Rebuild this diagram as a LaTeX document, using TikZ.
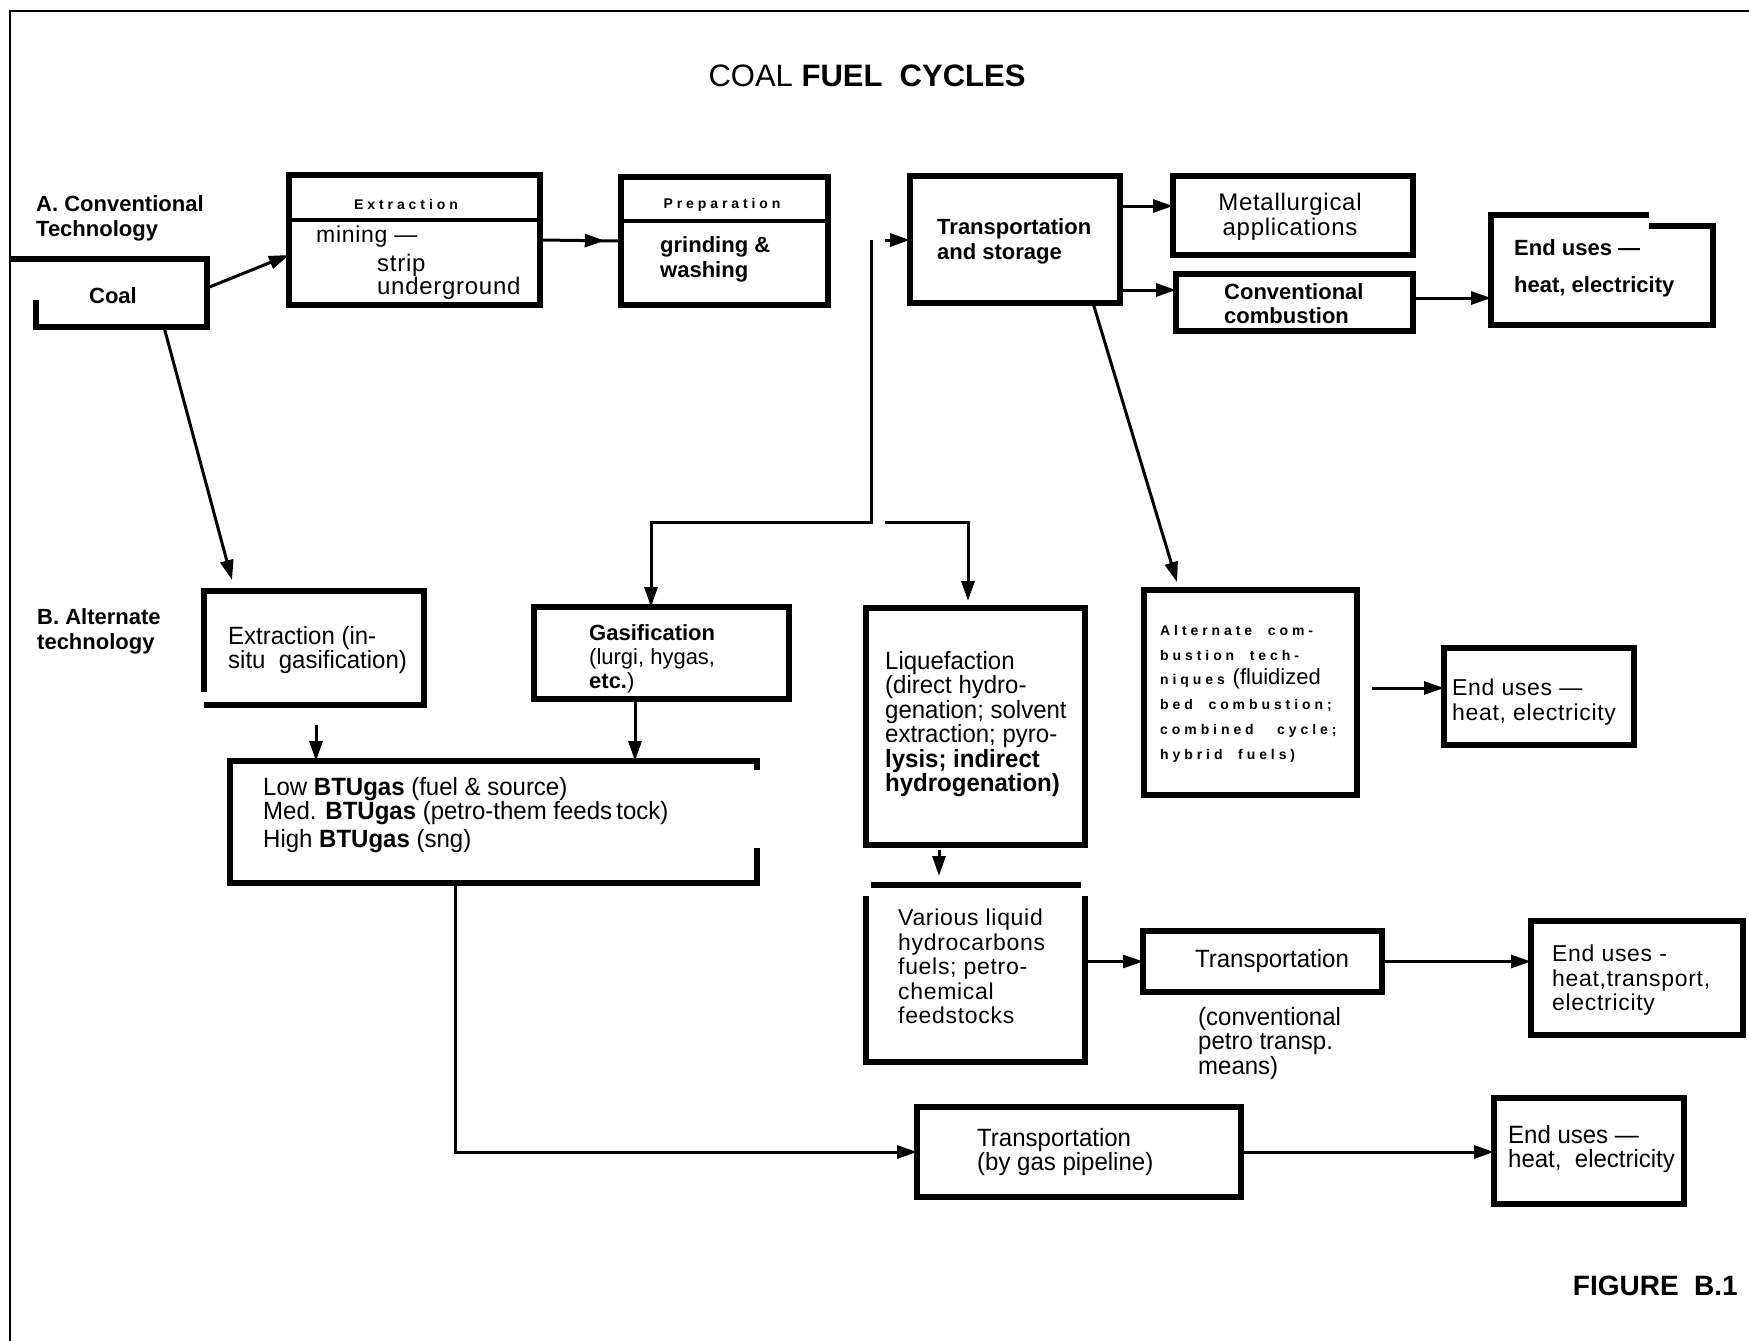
\documentclass[tikz,border=0pt]{standalone}
\usepackage{fontspec}
\setmainfont{Liberation Sans}
\newfontfamily\narf[FakeStretch=0.96]{Liberation Sans}
\newfontfamily\spcf[LetterSpace=28]{Liberation Sans}
\newfontfamily\typf[LetterSpace=3]{Liberation Sans}
\usetikzlibrary{arrows.meta,decorations.markings,calc}
\begin{document}
\begin{tikzpicture}[x=1pt,y=-1pt,
  box/.style={draw, line width=6pt, inner sep=0pt, outer sep=0pt},
  ghost/.style={inner sep=0pt, outer sep=0pt},
  edge/.style={line width=6pt},
  divider/.style={line width=3.5pt},
  conn/.style={line width=3pt},
  arr/.style={conn, -{Triangle[length=20pt,width=13pt]}},
  txt/.style={inner sep=0pt, anchor=north west, align=left},
  fbold/.style={font=\fontsize{22}{25}\selectfont\bfseries},
  freg/.style={font=\fontsize{22}{25}\selectfont},
  fnar/.style={font=\narf\fontsize{25}{24.5}\selectfont},
  fspc/.style={font=\spcf\fontsize{14}{24.8}\selectfont\bfseries},
  ftyp/.style={font=\typf\fontsize{23}{24.5}\selectfont},
]
\useasboundingbox (0,0) rectangle (1749,1341);
\fill[white] (0,0) rectangle (1749,1341);
% frame
\draw[line width=2.5pt] (10,1341) -- (10,11) -- (1749,11);

% title and section labels
\node[inner sep=0pt, font=\fontsize{31}{31}\selectfont] (title) at (867,76) {COAL \textbf{FUEL\ \ CYCLES}};
\node[txt, fbold] (lblA) at (36,195) {A. Conventional\\Technology};
\node[txt, fbold] (lblB) at (37,608) {B. Alternate\\technology};
\node[anchor=east, inner sep=0pt, font=\fontsize{28}{28}\selectfont\bfseries] (fig) at (1738,1286) {FIGURE\ \ B.1};

% ---------- boxes ----------
% Coal
\node[ghost, minimum width=196pt, minimum height=68pt] (coal) at (109,293) {};
\draw[edge] (coal.north west) -- (coal.north east) -- (coal.south east) -- ([xshift=25pt]coal.south west) -- ++(0,-27);
\node[fbold, inner sep=0pt] (tcoal) at (113,296) {Coal};

% Extraction
\node[box, minimum width=251pt, minimum height=130pt] (ext) at (414.5,240) {};
\draw[divider] (ext.west |- 0,220) -- (ext.east |- 0,220);
\node[fspc, inner sep=0pt] (text1) at (406,204) {Extraction};
\node[txt, ftyp] (text2) at (316,226) {mining —};
\node[txt, font=\typf\fontsize{24}{20}\selectfont] (text3) at (377,254) {strip\\underground};

% Preparation
\node[box, minimum width=207pt, minimum height=128pt] (prep) at (724.5,241) {};
\draw[divider] (prep.west |- 0,221) -- (prep.east |- 0,221);
\node[fspc, inner sep=0pt] (tprep1) at (722,205) {Preparation};
\node[txt, fbold] (tprep2) at (660,236) {grinding \&\\washing};

% Transportation and storage
\node[box, minimum width=210pt, minimum height=127pt] (ts) at (1015,239.5) {};
\node[txt, fbold] (tts) at (937,218) {Transportation\\and storage};

% Metallurgical
\node[box, minimum width=240pt, minimum height=79pt] (met) at (1293,215.5) {};
\node[font=\typf\fontsize{24}{25}\selectfont, align=center, inner sep=0pt] (tmet) at (1290,216.5) {Metallurgical\\applications};

% Conventional combustion
\node[box, minimum width=237pt, minimum height=57pt] (cc) at (1294.5,302.5) {};
\node[txt, font=\fontsize{22}{24}\selectfont\bfseries] (tcc) at (1224,283) {Conventional\\combustion};

% End uses (top)
\node[ghost, minimum width=222pt, minimum height=110pt] (eut) at (1602,270) {};
\draw[edge] ([xshift=158pt]eut.north west) -- (eut.north west) -- (eut.south west) -- (eut.south east) -- ([yshift=-11pt]eut.north east) -- ++(-64,0);
\node[txt, fbold] (teut) at (1514,239) {End uses —\\[12pt]heat, electricity};

% Extraction (in-situ)
\node[ghost, minimum width=220pt, minimum height=114pt] (extb) at (314,648) {};
\draw[edge] ([yshift=13pt]extb.south west) -- (extb.north west) -- (extb.north east) -- (extb.south east) -- (extb.south west);
\node[txt, fnar] (textb) at (228,626) {Extraction (in-\\situ\ \ gasification)};

% Gasification
\node[box, minimum width=255pt, minimum height=92pt] (gas) at (661.5,653) {};
\node[txt, font=\fontsize{22}{24}\selectfont] (tgas) at (589,624) {\textbf{Gasification}\\(lurgi, hygas,\\\textbf{etc.})};

% BTU gas
\node[ghost, minimum width=527pt, minimum height=122pt] (btu) at (493.5,822) {};
\draw[edge] ([yshift=-9pt]btu.north east) -- (btu.north east) -- (btu.north west) -- (btu.south west) -- (btu.south east) -- ++(0,-35);
\node[txt, fnar] (tbtu) at (263,777) {Low \textbf{BTUgas} (fuel \& source)\\Med. \textbf{BTUgas} (petro-them feeds\,tock)\\[3pt]High \textbf{BTUgas} (sng)};

% Liquefaction
\node[box, minimum width=219pt, minimum height=237pt] (liq) at (975.5,726.5) {};
\node[txt, fnar] (tliq) at (885,651) {Liquefaction\\(direct hydro-\\genation; solvent\\extraction; pyro-\\\textbf{lysis; indirect}\\\textbf{hydrogenation)}};

% Various liquid
\node[ghost, minimum width=219pt, minimum height=177pt] (var) at (975.5,973.5) {};
\draw[edge] ([xshift=5pt]var.north west) -- ([xshift=-4pt]var.north east);
\draw[edge] ([yshift=-11pt]var.north west) -- (var.south west) -- (var.south east) -- ([yshift=-11pt]var.north east);
\node[txt, ftyp] (tvar) at (898,909) {Various liquid\\hydrocarbons\\fuels; petro-\\chemical\\feedstocks};

% Transportation (liquids)
\node[box, minimum width=239pt, minimum height=61pt] (tr) at (1262.5,961.5) {};
\node[fnar, inner sep=0pt] (ttr) at (1272,961) {Transportation};
\node[txt, fnar] (ttr2) at (1198,1007) {(conventional\\petro transp.\\means)};

% End uses (liquids)
\node[box, minimum width=212pt, minimum height=114pt] (eul) at (1637,978) {};
\node[txt, ftyp] (teul) at (1552,945) {End uses -\\heat,transport,\\electricity};

% Alternate combustion
\node[box, minimum width=213pt, minimum height=205pt] (alt) at (1250.5,692.5) {};
\node[txt, fspc] (talt) at (1160,625) {Alternate\ \ com-\\bustion\ \ tech-\\niques {\normalfont\fontsize{22}{25}\selectfont (fluidized}\\bed\ \ combustion;\\combined\ \ \ cycle;\\hybrid\ \ fuels)};

% End uses (middle)
\node[box, minimum width=190pt, minimum height=97pt] (eum) at (1539,696.5) {};
\node[txt, ftyp] (teum) at (1452,679) {End uses —\\heat, electricity};

% Transportation (gas pipeline)
\node[box, minimum width=324pt, minimum height=90pt] (tgp) at (1079,1152) {};
\node[txt, fnar] (ttgp) at (977,1128) {Transportation\\(by gas pipeline)};

% End uses (bottom)
\node[box, minimum width=190pt, minimum height=106pt] (eub) at (1589,1151) {};
\node[txt, fnar] (teub) at (1508,1125) {End uses —\\heat,\ \ electricity};

% ---------- connectors ----------
\draw[arr] ([yshift=5pt]coal.east) -- ([yshift=-15pt]ext.west);
\draw[conn, postaction={decorate}, decoration={markings, mark=at position 0.8 with {\arrow{Triangle[length=20pt,width=13pt]}}}] (ext.east) -- (prep.west);

\coordinate (j1) at (871,240);
\coordinate (j2) at (871,522);
\coordinate (j3) at (885,522);
\coordinate (j4) at (885,240);
\coordinate (g1) at ([xshift=-10.5pt]gas.north);
\coordinate (q1) at ([xshift=-7.5pt]liq.north);
\draw[arr] (j1) -- (j2) -| (g1);
\draw[arr] (j4) -- (j4 -| ts.west);
\draw[arr, shorten >=7pt] (j3) -| (q1);

\coordinate (m1) at ([yshift=9.5pt]met.west);
\draw[arr] (m1 -| ts.east) -- (m1);
\coordinate (c1) at ([yshift=12.5pt]cc.west);
\draw[arr] (c1 -| ts.east) -- (c1);
\coordinate (c2) at ([yshift=4.5pt]cc.east);
\draw[arr] (c2) -- (c2 -| eut.west);

\draw[arr] ([xshift=55pt]coal.south) -- ([xshift=28pt,yshift=11pt]extb.north west);

\coordinate (b1) at ([xshift=2pt]extb.south);
\draw[arr] ([yshift=-20pt]b1) -- (b1 |- btu.north);
\coordinate (b2) at ([xshift=-26.5pt]gas.south);
\draw[arr] (b2) -- (b2 |- btu.north);
\coordinate (b3) at ([xshift=-38.5pt]btu.south);
\draw[arr] (b3) |- (tgp.west);
\draw[arr] (tgp.east) -- (tgp.east -| eub.west);

\coordinate (l1) at ([xshift=-36.5pt]liq.south);
\coordinate (v1) at ([yshift=9pt]var.north);
\draw[arr] ([yshift=-5pt]l1) -- (l1 |- v1);
\draw[arr] (tr.west -| var.east) -- (tr.west);
\draw[arr] (tr.east) -- (tr.east -| eul.west);

\draw[arr] ([xshift=78pt]ts.south) -- ([xshift=33pt,yshift=8pt]alt.north west);
\coordinate (a1) at ([xshift=15pt]alt.east);
\coordinate (e1) at ([yshift=8.5pt]eum.west);
\draw[arr] (a1 |- e1) -- (e1);
\end{tikzpicture}
\end{document}
